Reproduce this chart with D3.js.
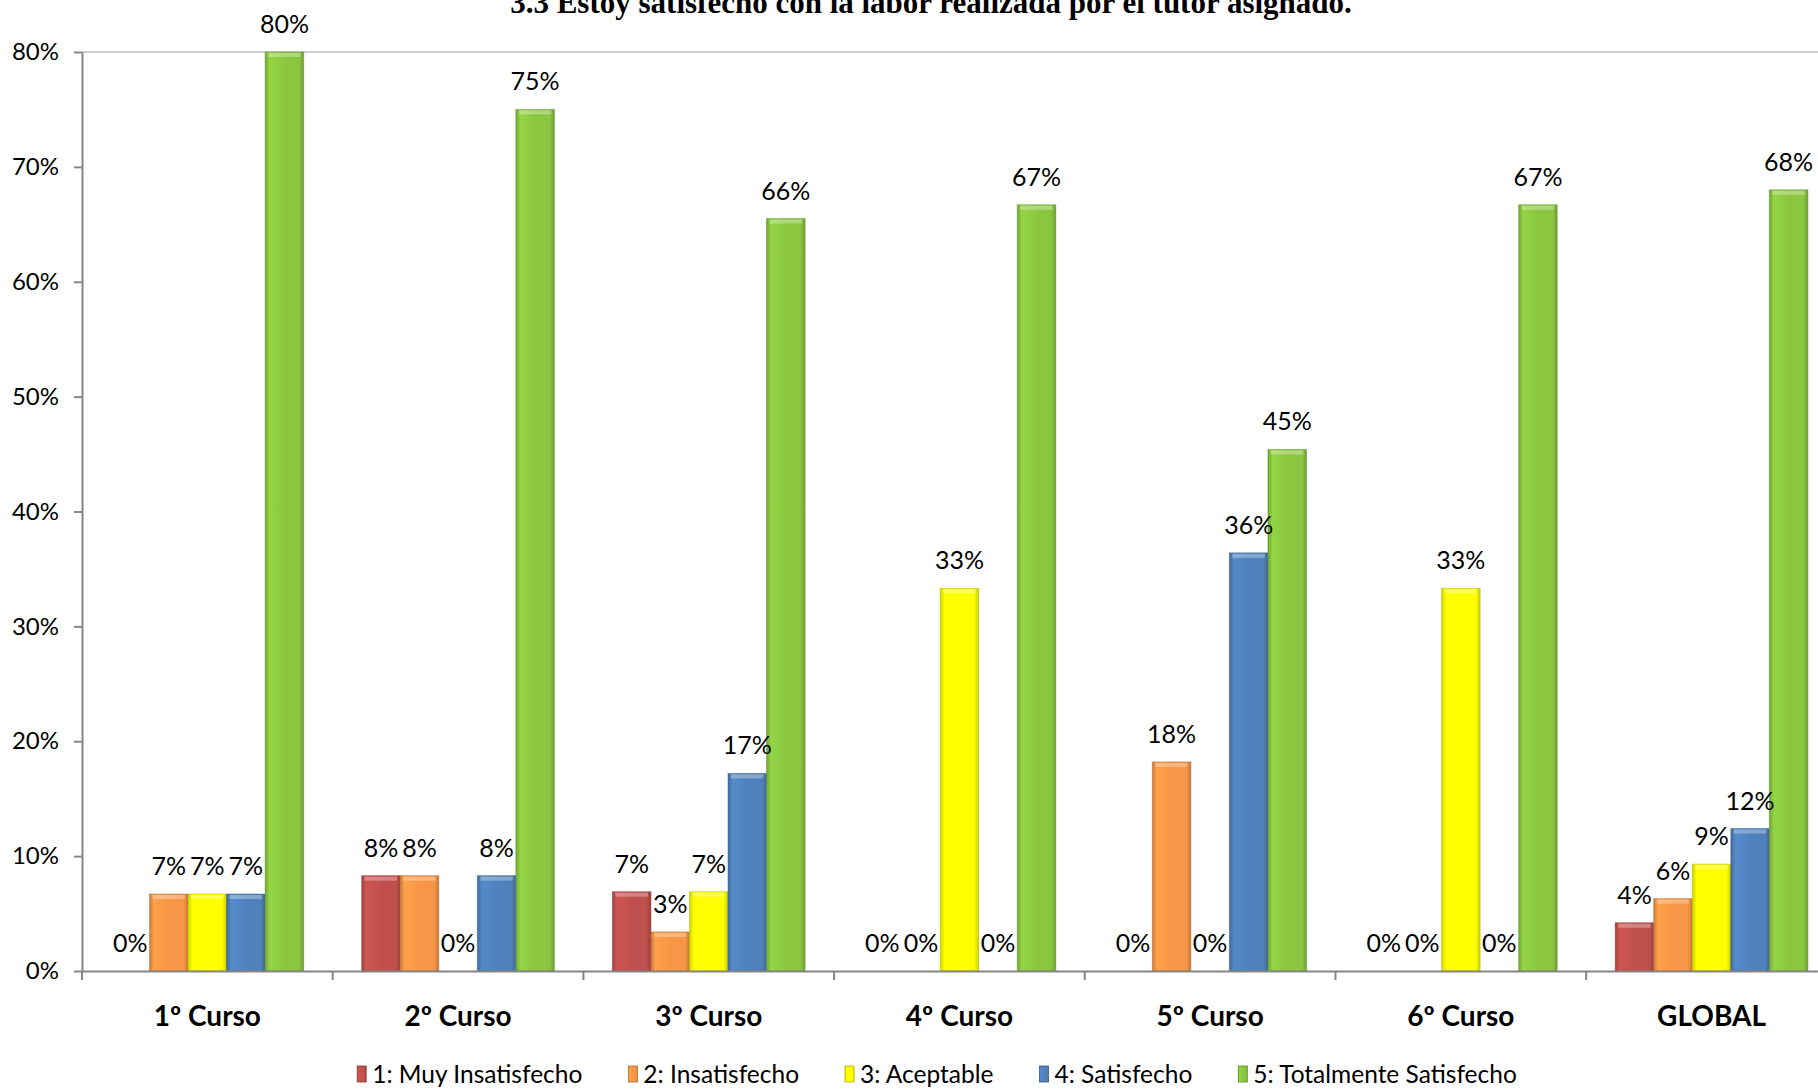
<!DOCTYPE html>
<html>
<head>
<meta charset="utf-8">
<script src="https://cdn.jsdelivr.net/npm/d3@7"></script>
<style>
  html, body { margin: 0; padding: 0; background: #fff; }
  svg { display: block; }
</style>
</head>
<body>
<svg id="chart"></svg>
<script>
// Chart data
const categories = ["1º Curso", "2º Curso", "3º Curso", "4º Curso", "5º Curso", "6º Curso", "GLOBAL"];
const seriesNames = ["1: Muy Insatisfecho", "2: Insatisfecho", "3: Aceptable", "4: Satisfecho", "5: Totalmente Satisfecho"];
const muyInsatisfecho = [0, 8.3, 6.9, 0, 0, 0, 4.2];
const insatisfecho = [6.7, 8.3, 3.4, 0, 18.2, 0, 6.3];
const aceptable = [6.7, 0, 6.9, 33.3, 0, 33.3, 9.3];
const satisfecho = [6.7, 8.3, 17.2, 0, 36.4, 0, 12.4];
const totalmenteSatisfecho = [80, 75, 65.5, 66.7, 45.4, 66.7, 68];
const yTicks = [0, 10, 20, 30, 40, 50, 60, 70, 80];
const titleText = "3.3 Estoy satisfecho con la labor realizada por el tutor asignado.";

// Layout constants
const WIDTH = 1818;
const HEIGHT = 1089;
const PLOT_LEFT = 82;
const PLOT_TOP = 52;
const PLOT_BOTTOM = 971;
const BAND = 250.7;
const GROUP_PAD = 29;
const FONT = "Lato, 'Open Sans', sans-serif";
const COLORS = ["#C0504D", "#F79646", "#FFFF00", "#4F81BD", "#8AC640"];

const allSeries = [muyInsatisfecho, insatisfecho, aceptable, satisfecho, totalmenteSatisfecho];

const svg = d3.select("#chart")
    .attr("width", WIDTH)
    .attr("height", HEIGHT)
    .attr("viewBox", [0, 0, WIDTH, HEIGHT]);

// Gradients to mimic the bevelled bar look
const defs = svg.append("defs");
COLORS.forEach((c, i) => {
    const base = d3.color(c);
    const grad = defs.append("linearGradient")
        .attr("id", "grad" + i)
        .attr("x1", 0).attr("x2", 1).attr("y1", 0).attr("y2", 0);
    grad.append("stop").attr("offset", "0%").attr("stop-color", base.darker(0.5));
    grad.append("stop").attr("offset", "12%").attr("stop-color", base.brighter(0.2));
    grad.append("stop").attr("offset", "50%").attr("stop-color", base);
    grad.append("stop").attr("offset", "88%").attr("stop-color", base);
    grad.append("stop").attr("offset", "100%").attr("stop-color", base.darker(0.6));
});

// Scales
const x0 = d3.scaleBand()
    .domain(categories)
    .range([PLOT_LEFT, PLOT_LEFT + BAND * categories.length])
    .padding(0);

const x1 = d3.scaleBand()
    .domain(seriesNames)
    .range([GROUP_PAD, BAND - GROUP_PAD])
    .padding(0);

const y = d3.scaleLinear()
    .domain([0, 80])
    .range([PLOT_BOTTOM, PLOT_TOP]);

// Top border line of plot area
svg.append("line")
    .attr("x1", PLOT_LEFT).attr("x2", WIDTH)
    .attr("y1", y(80)).attr("y2", y(80))
    .attr("stroke", "#BFBFBF")
    .attr("stroke-width", 1.5);

// Y axis
const yAxis = svg.append("g")
    .attr("transform", `translate(${PLOT_LEFT},0)`)
    .call(d3.axisLeft(y).tickValues(yTicks).tickFormat(d => d + "%").tickSize(8).tickSizeOuter(0));
yAxis.select(".domain").attr("stroke", "#868686").attr("stroke-width", 2);
yAxis.selectAll(".tick line").attr("stroke", "#868686").attr("stroke-width", 2);
yAxis.selectAll(".tick text")
    .attr("font-family", FONT)
    .attr("font-size", 24)
    .attr("fill", "#000")
    .attr("x", -23);

// Bars
const groups = svg.append("g")
    .selectAll("g")
    .data(categories)
    .join("g")
    .attr("transform", d => `translate(${x0(d)},0)`);

const barData = (cat, ci) => seriesNames.map((s, si) => ({ s, si, v: allSeries[si][ci] }));

groups.each(function (cat, ci) {
    const g = d3.select(this);
    const data = barData(cat, ci);

    g.selectAll("rect.bar")
        .data(data.filter(d => d.v > 0))
        .join("rect")
        .attr("class", "bar")
        .attr("x", d => x1(d.s))
        .attr("y", d => y(d.v))
        .attr("width", x1.bandwidth())
        .attr("height", d => y(0) - y(d.v))
        .attr("fill", d => `url(#grad${d.si})`)
        .attr("stroke", d => d3.color(COLORS[d.si]).darker(1))
        .attr("stroke-opacity", 0.5)
        .attr("stroke-width", 1);

    // highlight at top of each bar
    g.selectAll("rect.hl")
        .data(data.filter(d => d.v > 0))
        .join("rect")
        .attr("class", "hl")
        .attr("x", d => x1(d.s) + 3)
        .attr("y", d => y(d.v) + 1)
        .attr("width", x1.bandwidth() - 6)
        .attr("height", 4)
        .attr("fill", "#fff")
        .attr("opacity", 0.3);

    g.selectAll("text.lbl")
        .data(data)
        .join("text")
        .attr("class", "lbl")
        .attr("x", d => x1(d.s) + x1.bandwidth() / 2)
        .attr("y", d => y(d.v) - 19)
        .attr("text-anchor", "middle")
        .attr("font-family", FONT)
        .attr("font-size", 25)
        .attr("fill", "#000")
        .text(d => Math.round(d.v) + "%");
});

// X axis
const xAxis = svg.append("g")
    .attr("transform", `translate(0,${PLOT_BOTTOM})`)
    .call(d3.axisBottom(x0).tickSize(0).tickSizeOuter(0));
xAxis.select(".domain").attr("stroke", "#868686").attr("stroke-width", 2);
xAxis.selectAll(".tick text")
    .attr("font-family", FONT)
    .attr("font-size", 28)
    .attr("font-weight", "bold")
    .attr("fill", "#000")
    .attr("y", 55)
    .attr("dy", 0);

// Category separator ticks
svg.append("g")
    .selectAll("line")
    .data(categories)
    .join("line")
    .attr("x1", d => x0(d)).attr("x2", d => x0(d))
    .attr("y1", PLOT_BOTTOM).attr("y2", PLOT_BOTTOM + 9)
    .attr("stroke", "#868686")
    .attr("stroke-width", 2);

// Title
svg.append("text")
    .attr("x", 931)
    .attr("y", 13)
    .attr("text-anchor", "middle")
    .attr("font-family", "'Liberation Serif', 'Times New Roman', serif")
    .attr("font-weight", "bold")
    .attr("font-size", 31)
    .attr("fill", "#000")
    .text(titleText);

// Legend
const legend = svg.append("g");
const KEY_W = 9, KEY_H = 16, KEY_TEXT = 6, ITEM_GAP = 46;
let lx = 0;
seriesNames.forEach((name, i) => {
    const item = legend.append("g").attr("transform", `translate(${lx},0)`);
    item.append("rect")
        .attr("x", 0).attr("y", -KEY_H / 2)
        .attr("width", KEY_W).attr("height", KEY_H)
        .attr("fill", `url(#grad${i})`)
        .attr("stroke", d3.color(COLORS[i]).darker(1))
        .attr("stroke-width", 0.8);
    const t = item.append("text")
        .attr("x", KEY_W + KEY_TEXT)
        .attr("y", 0)
        .attr("dy", "0.35em")
        .attr("font-family", FONT)
        .attr("font-size", 24.5)
        .attr("fill", "#000")
        .text(name);
    lx += KEY_W + KEY_TEXT + t.node().getComputedTextLength() + ITEM_GAP;
});
const legendWidth = lx - ITEM_GAP;
legend.attr("transform", `translate(${937 - legendWidth / 2},1074)`);
</script>
</body>
</html>
